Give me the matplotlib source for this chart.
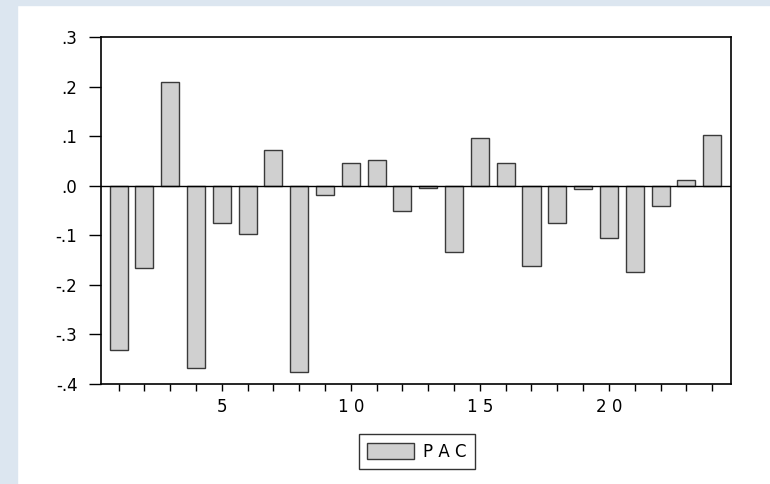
import matplotlib as mpl
mpl.use("agg")
import matplotlib.pyplot as plt
from matplotlib.patches import Rectangle

plt.rcParams["font.family"] = ["DejaVu Sans"]

lags = list(range(1, 25))
pac = [-0.332, -0.165, 0.209, -0.367, -0.076, -0.097, 0.073, -0.376,
       -0.019, 0.046, 0.052, -0.050, -0.004, -0.133, 0.096, 0.045,
       -0.161, -0.076, -0.006, -0.105, -0.175, -0.040, 0.012, 0.102]
ytick_vals = [0.3, 0.2, 0.1, 0.0, -0.1, -0.2, -0.3, -0.4]
ytick_labels = [".3", ".2", ".1", ".0", "-.1", "-.2", "-.3", "-.4"]
xtick_labels = {5: "5", 10: "1 0", 15: "1 5", 20: "2 0"}

bg_blue = "#dce6f0"
bar_fill = "#d0d0d0"
bar_edge = "#3a3a3a"

fig = plt.figure(figsize=(7.7, 4.84), dpi=100)
fig.patch.set_facecolor("white")
# light blue frame on the left and top edge
fig.patches.append(Rectangle((0, 0), 17 / 770, 1, transform=fig.transFigure,
                             color=bg_blue, zorder=0))
fig.patches.append(Rectangle((0, 1 - 5 / 484), 1, 5 / 484, transform=fig.transFigure,
                             color=bg_blue, zorder=0))

ax = fig.add_axes([101 / 770, 1 - 384 / 484, 630 / 770, 347 / 484])

ax.bar(lags, pac, width=0.7, color=bar_fill, edgecolor=bar_edge,
       linewidth=1.0, label="P A C", zorder=2)
ax.axhline(0, color="black", linewidth=1.0, zorder=3)

ax.set_xlim(0.32, 24.73)
ax.set_ylim(-0.4, 0.3)

ax.set_yticks(ytick_vals)
ax.set_yticklabels(ytick_labels)
ax.set_xticks(lags)
ax.set_xticklabels([xtick_labels.get(i, "") for i in lags])

ax.tick_params(axis="y", direction="out", length=9, width=1, pad=8,
               labelsize=12)
ax.tick_params(axis="x", direction="out", length=5, width=1, pad=5,
               labelsize=12)

for s in ax.spines.values():
    s.set_linewidth(1.2)
    s.set_color("black")

leg = fig.legend(loc="center", bbox_to_anchor=(0.541, 0.0665), fontsize=12,
                 frameon=True, fancybox=False, shadow=False,
                 handlelength=2.8, handleheight=1.05, borderpad=0.5,
                 handletextpad=0.55, borderaxespad=0)
leg.get_frame().set_edgecolor("black")
leg.get_frame().set_linewidth(1.0)

plt.savefig("out.png", dpi=100, facecolor=fig.get_facecolor())
